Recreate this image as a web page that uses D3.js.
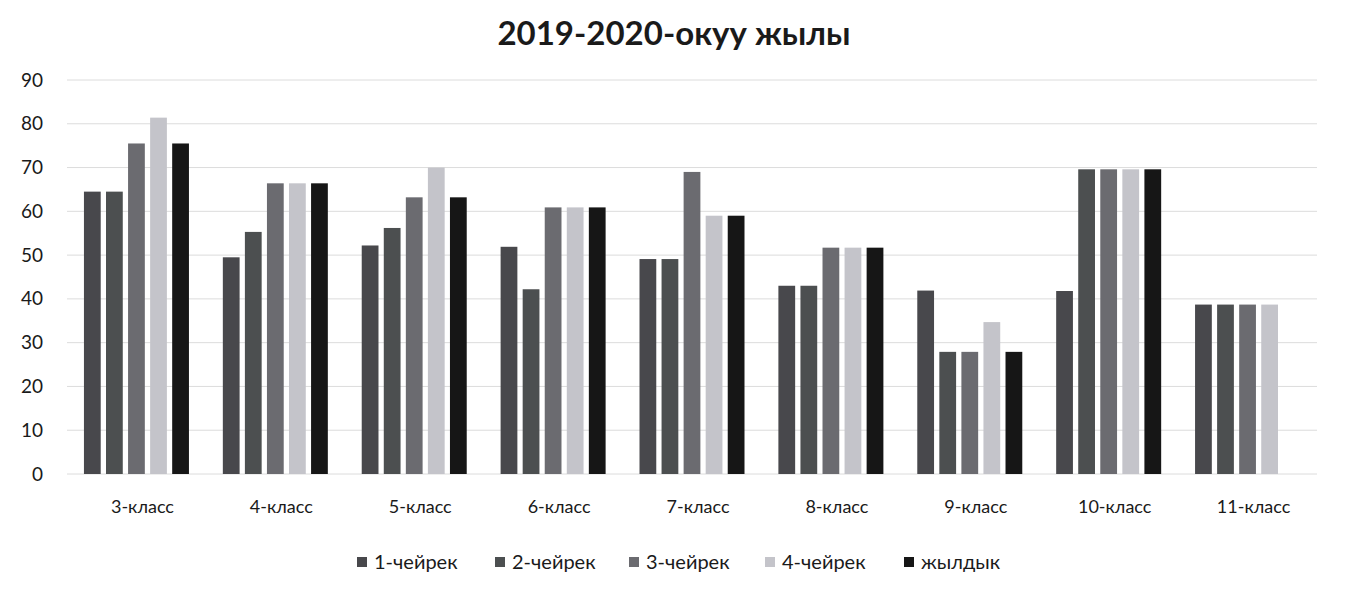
<!DOCTYPE html>
<html>
<head>
<meta charset="utf-8">
<script src="https://cdn.jsdelivr.net/npm/d3@7"></script>
<style>
  html, body { margin: 0; padding: 0; background: #fff; }
  svg { display: block; }
  text { font-family: Lato, "Open Sans", sans-serif; fill: #1a1a1a; }
</style>
</head>
<body>
<svg id="chart" width="1353" height="593"></svg>
<script>
const title = "2019-2020-окуу жылы";
const categories = ["3-класс", "4-класс", "5-класс", "6-класс", "7-класс", "8-класс", "9-класс", "10-класс", "11-класс"];
const seriesNames = ["1-чейрек", "2-чейрек", "3-чейрек", "4-чейрек", "жылдык"];
const q1 = [64.5, 49.5, 52.2, 51.9, 49.1, 43.0, 41.9, 41.8, 38.7];
const q2 = [64.5, 55.3, 56.2, 42.2, 49.1, 43.0, 27.9, 69.6, 38.7];
const q3 = [75.5, 66.4, 63.2, 60.9, 69.0, 51.7, 27.9, 69.6, 38.7];
const q4 = [81.4, 66.4, 70.0, 60.9, 59.0, 51.7, 34.7, 69.6, 38.7];
const annual = [75.5, 66.4, 63.2, 60.9, 59.0, 51.7, 27.9, 69.6, null];
const yTicks = [0, 10, 20, 30, 40, 50, 60, 70, 80, 90];
const colors = ["#48484c", "#4c4f50", "#6b6b70", "#c4c4ca", "#161616"];

const series = [q1, q2, q3, q4, annual];

const svg = d3.select("#chart");
const mLeft = 67, mRight = 1317, mTop = 80, mBottom = 474;

const x = d3.scaleBand().domain(categories).range([mLeft, mRight]).paddingInner(0).paddingOuter(0);
const x1 = d3.scaleBand().domain(seriesNames).range([0, 105]).paddingInner(0.24).paddingOuter(0);
const y = d3.scaleLinear().domain([0, 90]).range([mBottom, mTop]);

// title
svg.append("text")
  .attr("x", 674).attr("y", 45)
  .attr("text-anchor", "middle")
  .style("font-size", "33px").style("font-weight", "bold")
  .text(title);

// gridlines
svg.append("g").selectAll("line").data(yTicks).join("line")
  .attr("x1", mLeft).attr("x2", mRight)
  .attr("y1", d => y(d)).attr("y2", d => y(d))
  .attr("stroke", "#dcdcdc").attr("stroke-width", 1);

// y axis labels
const yAxis = d3.axisLeft(y).tickValues(yTicks).tickSize(0).tickPadding(0);
const gy = svg.append("g").attr("transform", `translate(${mLeft - 24},0)`).call(yAxis);
gy.select(".domain").remove();
gy.selectAll("text").style("font-size", "19px").style("font-family", "Lato, sans-serif").attr("fill", "#1a1a1a");

// x axis labels
const xAxis = d3.axisBottom(x).tickSize(0).tickPadding(0);
const gx = svg.append("g").attr("transform", `translate(6,${mBottom + 26})`).call(xAxis);
gx.select(".domain").remove();
gx.selectAll("text").style("font-size", "18px").style("font-family", "Lato, sans-serif").attr("fill", "#1a1a1a");

// bars
const groups = svg.append("g").selectAll("g").data(categories).join("g")
  .attr("transform", d => `translate(${x(d) + x.bandwidth() / 2 - 52.5},0)`);
groups.selectAll("rect")
  .data((c, i) => series.map((s, k) => ({ name: seriesNames[k], v: s[i], k })).filter(d => d.v != null))
  .join("rect")
  .attr("x", d => x1(d.name))
  .attr("width", x1.bandwidth())
  .attr("y", d => y(d.v))
  .attr("height", d => y(0) - y(d.v))
  .attr("fill", d => colors[d.k]);

// legend
const legendX = [357, 495, 629, 765, 904];
const lg = svg.append("g").selectAll("g").data(seriesNames).join("g")
  .attr("transform", (d, i) => `translate(${legendX[i]},562)`);
lg.append("rect").attr("x", 0).attr("y", -5).attr("width", 10).attr("height", 10)
  .attr("fill", (d, i) => colors[i]);
lg.append("text").attr("x", 17).attr("y", 7).style("font-size", "20px").text(d => d);
</script>
</body>
</html>
